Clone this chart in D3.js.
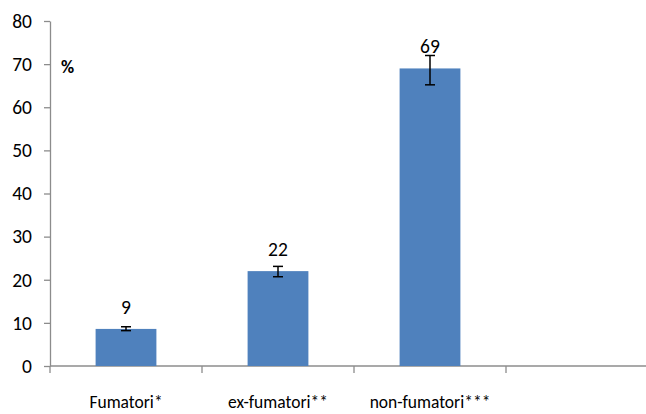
<!DOCTYPE html>
<html>
<head>
<meta charset="utf-8">
<script src="https://cdn.jsdelivr.net/npm/d3@7"></script>
<style>
  html, body { margin: 0; padding: 0; background: #fff; }
  svg { display: block; }
  text { font-family: Carlito, Lato, "Open Sans", sans-serif; fill: #000; }
</style>
</head>
<body>
<svg id="chart" width="646" height="414"></svg>
<script>
// ---- data ----
const categories = ["Fumatori*", "ex-fumatori**", "non-fumatori***", ""];
const values = [8.6, 22, 69];
const valueLabels = ["9", "22", "69"];
const errLow = [8.2, 20.7, 65.2];
const errHigh = [9.1, 23.1, 72.0];
const yTicks = [0, 10, 20, 30, 40, 50, 60, 70, 80];
const yUnit = "%";

(function () {
// ---- layout ----
const svg = d3.select("#chart");
const mLeft = 50, mRight = 658, mTop = 21, mBottom = 366;
const axisColor = "#8c8c8c";
const barColor = "#4f81bd";
const font = "Carlito, Lato, 'Open Sans', sans-serif";

const x = d3.scaleBand().domain(categories).range([mLeft, mRight])
  .paddingInner(0.6).paddingOuter(0.3);
const y = d3.scaleLinear().domain([0, 80]).range([mBottom, mTop]);

// y axis
const yAxis = svg.append("g").attr("transform", `translate(${mLeft},0)`)
  .call(d3.axisLeft(y).tickValues(yTicks).tickSize(6).tickSizeOuter(0).tickPadding(12));
yAxis.select(".domain").attr("stroke", axisColor).attr("stroke-width", 1.3);
yAxis.selectAll(".tick line").attr("stroke", axisColor).attr("stroke-width", 1.3);
yAxis.selectAll(".tick text").attr("font-size", 19.5).attr("fill", "#000").style("font-family", font);

// x axis (labels)
const xAxis = svg.append("g").attr("transform", `translate(0,${mBottom})`)
  .call(d3.axisBottom(x).tickSize(0).tickSizeOuter(0).tickPadding(30));
xAxis.select(".domain").remove();
xAxis.selectAll(".tick text").attr("font-size", 17.5).attr("fill", "#000").style("font-family", font);

// x axis line and boundary ticks
svg.append("line").attr("x1", mLeft).attr("x2", mRight).attr("y1", mBottom).attr("y2", mBottom)
  .attr("stroke", axisColor).attr("stroke-width", 1.3);
const gap = (x.step() - x.bandwidth()) / 2;
const boundaries = categories.map(c => x(c) - gap)
  .concat([x(categories[categories.length - 1]) + x.bandwidth() + gap]);
svg.selectAll(".xtick").data(boundaries).join("line").attr("class", "xtick")
  .attr("x1", d => d).attr("x2", d => d).attr("y1", mBottom).attr("y2", mBottom + 7)
  .attr("stroke", axisColor).attr("stroke-width", 1.3);

// bars
const data = values.map((v, i) => ({ cat: categories[i], v, lab: valueLabels[i], lo: errLow[i], hi: errHigh[i] }));
svg.selectAll(".bar").data(data).join("rect").attr("class", "bar")
  .attr("x", d => x(d.cat)).attr("width", x.bandwidth())
  .attr("y", d => y(d.v)).attr("height", d => y(0) - y(d.v))
  .attr("fill", barColor);

// error bars
const cx = d => x(d.cat) + x.bandwidth() / 2;
const eb = svg.selectAll(".err").data(data).join("g").attr("class", "err")
  .attr("stroke", "#000").attr("stroke-width", 1.5);
eb.append("line").attr("x1", cx).attr("x2", cx).attr("y1", d => y(d.hi)).attr("y2", d => y(d.lo));
eb.append("line").attr("x1", d => cx(d) - 5).attr("x2", d => cx(d) + 5).attr("y1", d => y(d.hi)).attr("y2", d => y(d.hi));
eb.append("line").attr("x1", d => cx(d) - 5).attr("x2", d => cx(d) + 5).attr("y1", d => y(d.lo)).attr("y2", d => y(d.lo));

// value labels
svg.selectAll(".vlab").data(data).join("text").attr("class", "vlab")
  .attr("x", cx).attr("y", d => y(d.v) - 15)
  .attr("text-anchor", "middle").attr("font-size", 19.5).text(d => d.lab);

// unit label
svg.append("text").attr("x", 61).attr("y", 73).attr("font-size", 18)
  .attr("font-weight", "bold").text(yUnit);
})();
</script>
</body>
</html>
